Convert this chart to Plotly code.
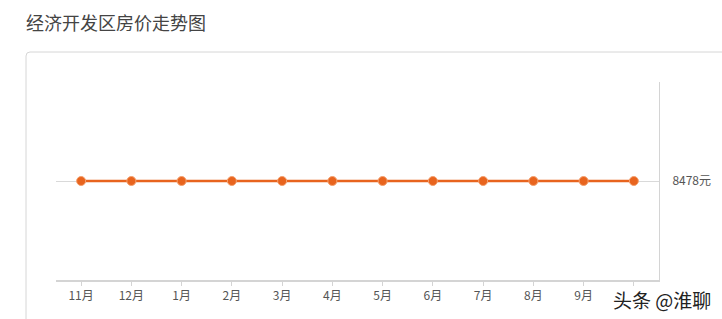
import plotly.graph_objects as go

months = ["11月", "12月", "1月", "2月", "3月", "4月", "5月", "6月", "7月", "8月", "9月", "10月"]
prices = [8478, 8478, 8478, 8478, 8478, 8478, 8478, 8478, 8478, 8478, 8478, 8478]
y_ticks = [8478]
y_tick_labels = ["8478元"]
# the last month label is hidden under the watermark in the reference
x_tick_labels = months[:-1] + [""]

W, H = 722, 319
FONT = "Noto Sans CJK SC, Microsoft YaHei, sans-serif"

fig = go.Figure()
fig.add_trace(go.Scatter(
    x=months, y=prices, mode="lines+markers",
    line=dict(color="#e8641e", width=2.5),
    marker=dict(color="#e8641e", size=9, line=dict(color="#f4a06e", width=1)),
    hoverinfo="x+y",
))

fig.update_layout(
    width=W, height=H,
    margin=dict(l=0, r=0, t=0, b=0),
    paper_bgcolor="white", plot_bgcolor="white",
    showlegend=False,
    font=dict(family=FONT, size=12, color="#555"),
    xaxis=dict(
        domain=[56 / W, 659 / W],
        type="category",
        range=[-0.5, 11.5],
        tickmode="array", tickvals=months, ticktext=x_tick_labels,
        showline=True, linecolor="#d4d4d4", linewidth=2,
        showgrid=False, zeroline=False,
        ticks="outside", ticklen=4, tickcolor="#d4d4d4", tickwidth=1,
        tickfont=dict(size=12, color="#555", family=FONT),
    ),
    yaxis=dict(
        domain=[1 - 280 / H, 1 - 82 / H],
        side="right",
        range=[8477, 8479],
        tickmode="array", tickvals=y_ticks, ticktext=y_tick_labels,
        showline=True, linecolor="#d4d4d4", linewidth=1,
        showgrid=True, gridcolor="#d9d9d9", gridwidth=1,
        zeroline=False,
        ticks="", ticklabelstandoff=10,
        tickfont=dict(size=12, color="#555", family=FONT),
    ),
    shapes=[
        dict(type="path", xref="paper", yref="paper",
             path=f"M {26/W} -0.1 L {26/W} {1-56/H} Q {26/W} {1-52/H} {30/W} {1-52/H} L 1.1 {1-52/H}",
             line=dict(color="#d6d6d6", width=1)),
    ],
    annotations=[
        dict(text="经济开发区房价走势图", xref="paper", yref="paper",
             x=24 / W, y=1 - 22 / H, xanchor="left", yanchor="middle",
             showarrow=False, font=dict(size=18, color="#444", family=FONT)),
        dict(text="头条 @淮聊", xref="paper", yref="paper",
             x=713 / W, y=1 - 299 / H, xanchor="right", yanchor="middle",
             showarrow=False,
             font=dict(size=19, color="#222", family=FONT)),
    ],
)

fig.write_html("out.html")
